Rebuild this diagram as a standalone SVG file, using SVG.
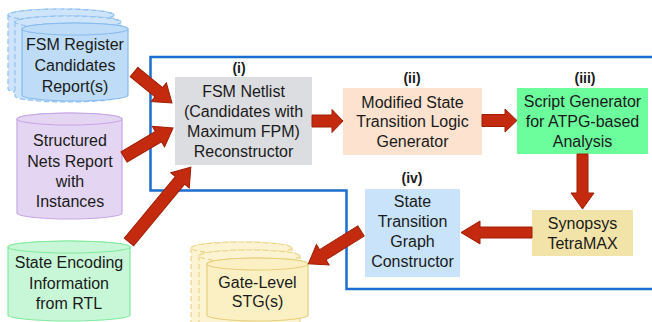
<svg xmlns="http://www.w3.org/2000/svg" width="652" height="322" viewBox="0 0 652 322">
  <style>
    .t { font-family: "Liberation Sans", Arial, sans-serif; font-size: 16px; fill: #1a1a1a; text-anchor: middle; }
    .n { font-family: "Liberation Sans", Arial, sans-serif; font-size: 14px; font-weight: bold; fill: #1a1a1a; text-anchor: middle; }
    .arrow { fill: #c42a0d; stroke: #a01e06; stroke-width: 1; stroke-linejoin: miter; }
    .frame { fill: none; stroke: #1b6ecf; stroke-width: 2.5; }
    .blueCyl { fill: #bedcf8; stroke: #86bbee; stroke-width: 1.2; }
    .blueCylBack { fill: #cde4fa; stroke: #8fc0f0; stroke-width: 1.2; stroke-dasharray: 5 3; }
    .purpleCyl { fill: #e4d6f2; stroke: #c6a6e4; stroke-width: 1.2; }
    .greenCyl { fill: #c8f7d7; stroke: #80ea9d; stroke-width: 1.2; }
    .yellowCyl { fill: #fbf0c3; stroke: #e6cf7a; stroke-width: 1.2; }
    .yellowCylBack { fill: #fcf3d2; stroke: #ead68c; stroke-width: 1.2; stroke-dasharray: 5 3; }
  </style>

  <rect width="652" height="322" fill="#ffffff"/>

  <!-- processing frame -->
  <path class="frame" d="M652,57 H150.5 V190.5 H346.5 V289 H652"/>

  <!-- FSM register candidate reports (stacked) -->
  <g id="fsm-register-report">
    <path class="blueCylBack" d="M8,15 V89 A53,6 0 0 0 114,89 V15 A53,6 0 0 0 8,15 Z"/>
    <ellipse class="blueCylBack" cx="61" cy="15" rx="53" ry="6"/>
    <path class="blueCylBack" d="M15,22 V96 A53,6 0 0 0 121,96 V22 A53,6 0 0 0 15,22 Z"/>
    <ellipse class="blueCylBack" cx="68" cy="22" rx="53" ry="6"/>
    <path class="blueCyl" d="M22,29 V95 A53,6 0 0 0 128,95 V29 A53,6 0 0 0 22,29 Z"/>
    <ellipse class="blueCyl" cx="75" cy="29" rx="53" ry="6"/>
    <text class="t" x="75" y="50">FSM Register</text>
    <text class="t" x="75" y="71">Candidates</text>
    <text class="t" x="75" y="92">Report(s)</text>
  </g>

  <!-- structured nets report -->
  <g id="structured-nets-report">
    <path class="purpleCyl" d="M17,119 V213 A52.5,6 0 0 0 122,213 V119 A52.5,6 0 0 0 17,119 Z"/>
    <ellipse class="purpleCyl" cx="69.5" cy="119" rx="52.5" ry="6"/>
    <text class="t" x="70" y="146">Structured</text>
    <text class="t" x="70" y="166.5">Nets Report</text>
    <text class="t" x="70" y="187">with</text>
    <text class="t" x="70" y="207">Instances</text>
  </g>

  <!-- state encoding information -->
  <g id="state-encoding-info">
    <path class="greenCyl" d="M8,247 V315 A61,6 0 0 0 130,315 V247 A61,6 0 0 0 8,247 Z"/>
    <ellipse class="greenCyl" cx="69" cy="247" rx="61" ry="6"/>
    <text class="t" x="69" y="268">State Encoding</text>
    <text class="t" x="69" y="289">Information</text>
    <text class="t" x="69" y="309">from RTL</text>
  </g>

  <!-- (i) netlist reconstructor -->
  <g id="netlist-reconstructor">
    <text class="n" x="239" y="73">(i)</text>
    <rect x="175" y="77" width="137" height="88" fill="#dcdde0"/>
    <text class="t" x="243.5" y="97">FSM Netlist</text>
    <text class="t" x="243.5" y="117">(Candidates with</text>
    <text class="t" x="243.5" y="137">Maximum FPM)</text>
    <text class="t" x="243.5" y="157">Reconstructor</text>
  </g>

  <!-- (ii) modified state transition logic generator -->
  <g id="transition-logic-generator">
    <text class="n" x="412" y="83">(ii)</text>
    <rect x="343" y="88" width="139" height="67" fill="#fde2cf"/>
    <text class="t" x="412.5" y="108">Modified State</text>
    <text class="t" x="412.5" y="127">Transition Logic</text>
    <text class="t" x="412.5" y="147">Generator</text>
  </g>

  <!-- (iii) script generator -->
  <g id="script-generator">
    <text class="n" x="585" y="83">(iii)</text>
    <rect x="517" y="88" width="131" height="66" fill="#6cfd9c"/>
    <text class="t" x="582.5" y="107">Script Generator</text>
    <text class="t" x="582.5" y="127">for ATPG-based</text>
    <text class="t" x="582.5" y="147">Analysis</text>
  </g>

  <!-- TetraMAX -->
  <g id="tetramax">
    <rect x="532" y="210" width="101" height="46" fill="#f2e4a8"/>
    <text class="t" x="582.5" y="229">Synopsys</text>
    <text class="t" x="582.5" y="249">TetraMAX</text>
  </g>

  <!-- (iv) state transition graph constructor -->
  <g id="stg-constructor">
    <text class="n" x="412" y="183">(iv)</text>
    <rect x="365" y="189" width="95" height="88" fill="#c9e3fb"/>
    <text class="t" x="412.5" y="207">State</text>
    <text class="t" x="412.5" y="227">Transition</text>
    <text class="t" x="412.5" y="247">Graph</text>
    <text class="t" x="412.5" y="267">Constructor</text>
  </g>

  <!-- gate-level STG output (stacked) -->
  <g id="gate-level-stg">
    <path class="yellowCylBack" d="M191,248 V330 A50.5,6 0 0 0 292,330 V248 A50.5,6 0 0 0 191,248 Z"/>
    <ellipse class="yellowCylBack" cx="241.5" cy="248" rx="50.5" ry="6"/>
    <path class="yellowCylBack" d="M199,256 V330 A50.5,6 0 0 0 300,330 V256 A50.5,6 0 0 0 199,256 Z"/>
    <ellipse class="yellowCylBack" cx="249.5" cy="256" rx="50.5" ry="6"/>
    <path class="yellowCyl" d="M207,264 V315 A50.5,6 0 0 0 308,315 V264 A50.5,6 0 0 0 207,264 Z"/>
    <ellipse class="yellowCyl" cx="257.5" cy="264" rx="50.5" ry="6"/>
    <text class="t" x="257.5" y="288">Gate-Level</text>
    <text class="t" x="257.5" y="307">STG(s)</text>
  </g>

  <!-- block arrows -->
  <g id="connectors">
    <polygon class="arrow" transform="translate(134,72) rotate(39.2)" points="0,-6 32,-6 32,-12 49,0 32,12 32,6 0,6"/>
    <polygon class="arrow" transform="translate(124,157) rotate(-30.6)" points="0,-6 40,-6 40,-12 57,0 40,12 40,6 0,6"/>
    <polygon class="arrow" transform="translate(129,242) rotate(-50.4)" points="0,-6 80,-6 80,-12 97,0 80,12 80,6 0,6"/>
    <polygon class="arrow" transform="translate(312,121)" points="0,-6 20,-6 20,-11.5 31,0 20,11.5 20,6 0,6"/>
    <polygon class="arrow" transform="translate(482,120.5)" points="0,-6 23,-6 23,-11.5 35,0 23,11.5 23,6 0,6"/>
    <polygon class="arrow" transform="translate(582.5,154) rotate(90)" points="0,-5.5 39,-5.5 39,-11.5 55,0 39,11.5 39,5.5 0,5.5"/>
    <polygon class="arrow" transform="translate(532,232.5) rotate(180)" points="0,-5.5 52,-5.5 52,-11.5 71,0 52,11.5 52,5.5 0,5.5"/>
    <polygon class="arrow" transform="translate(361,231) rotate(148.1)" points="0,-6 45,-6 45,-12 62,0 45,12 45,6 0,6"/>
  </g>
</svg>
